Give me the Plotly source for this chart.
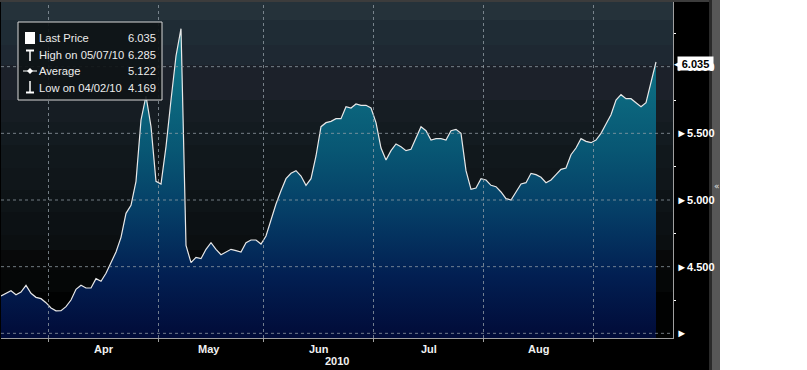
import pandas as pd
import plotly.graph_objects as go

# ---------------- data ----------------
start_date = "2010-03-18"
end_date = "2010-09-17"
prices = [
    4.28, 4.30, 4.32, 4.29, 4.31, 4.36, 4.30, 4.27, 4.26, 4.23,
    4.19, 4.169, 4.17, 4.20, 4.25, 4.33, 4.36, 4.34, 4.34, 4.41,
    4.39, 4.45, 4.53, 4.61, 4.72, 4.90, 4.96, 5.14, 5.60, 5.78,
    5.55, 5.14, 5.12, 5.40, 5.75, 6.08, 6.285, 4.66, 4.53, 4.57,
    4.56, 4.63, 4.68, 4.63, 4.59, 4.61, 4.63, 4.62, 4.61, 4.68,
    4.70, 4.70, 4.67, 4.73, 4.85, 4.97, 5.07, 5.16, 5.20, 5.22,
    5.18, 5.11, 5.16, 5.33, 5.55, 5.58, 5.59, 5.61, 5.61, 5.70,
    5.69, 5.72, 5.71, 5.71, 5.69, 5.58, 5.39, 5.30, 5.37, 5.42,
    5.40, 5.37, 5.38, 5.47, 5.55, 5.52, 5.45, 5.46, 5.46, 5.45,
    5.52, 5.53, 5.50, 5.22, 5.08, 5.09, 5.16, 5.15, 5.11, 5.10,
    5.06, 5.01, 5.00, 5.06, 5.12, 5.13, 5.20, 5.19, 5.17, 5.13,
    5.15, 5.19, 5.23, 5.24, 5.34, 5.39, 5.46, 5.44, 5.43, 5.45,
    5.50, 5.57, 5.64, 5.75, 5.79, 5.76, 5.76, 5.73, 5.70, 5.73,
    5.88, 6.035,
]
month_starts = ["2010-04-01", "2010-05-03", "2010-06-01", "2010-07-01", "2010-08-02", "2010-09-01"]
month_labels = ["Apr", "May", "Jun", "Jul", "Aug"]
month_label_dates = ["2010-04-16", "2010-05-17", "2010-06-16", "2010-07-16", "2010-08-17"]
year_label = "2010"
y_ticks = [4.0, 4.5, 5.0, 5.5, 6.0]
y_ticktext = ["\u25ba", "\u25ba4.500", "\u25ba5.000", "\u25ba5.500", "\u25ba6.000"]
y_minor = [4.25, 4.75, 5.25, 5.75, 6.25]
legend_names = ["Last Price", "High on 05/07/10", "Average", "Low on 04/02/10"]
legend_values = ["6.035", "6.285", "5.122", "4.169"]
last_price = 6.035

dates = pd.bdate_range(start_date, end_date) + pd.Timedelta(hours=12)
assert len(dates) == len(prices)

# ---------------- layout helpers ----------------
W, H = 807, 370
ML, MR, MT, MB = 1, 134, 2, 32
PW, PH = W - ML - MR, H - MT - MB
BOTTOM = MT + PH


def px2x(px):
    return (px - ML) / PW


def py2y(py):
    return (BOTTOM - py) / PH


FONT = "Liberation Sans, Arial, sans-serif"
GRID = "rgba(150,160,168,0.75)"

fig = go.Figure()
fig.add_trace(go.Scatter(
    x=dates, y=prices, mode="lines",
    line=dict(color="#e8e8e8", width=1.2),
    fill="tozeroy",
    fillgradient=dict(
        type="vertical", start=3.965, stop=6.3,
        colorscale=[[0.0, "#010b38"], [0.2, "#021f52"], [0.4, "#053d66"],
                    [0.6, "#085673"], [0.8, "#0c6a80"], [1.0, "#117a8c"]],
    ),
    hoverinfo="skip", showlegend=False,
))

shapes = []
# figure background (black panel + side strips)
shapes.append(dict(type="rect", xref="paper", yref="paper", x0=px2x(0), x1=px2x(711),
                   y0=py2y(H), y1=py2y(0), fillcolor="#000000", line_width=0, layer="below"))
shapes.append(dict(type="rect", xref="paper", yref="paper", x0=px2x(0), x1=px2x(711),
                   y0=py2y(2), y1=py2y(0), fillcolor="#3c3c3c", line_width=0, layer="below"))
shapes.append(dict(type="rect", xref="paper", yref="paper", x0=px2x(709), x1=px2x(712),
                   y0=py2y(H), y1=py2y(0), fillcolor="#2a2a2a", line_width=0, layer="below"))
shapes.append(dict(type="rect", xref="paper", yref="paper", x0=px2x(712), x1=px2x(720),
                   y0=py2y(H), y1=py2y(0), fillcolor="#575757", line_width=0, layer="below"))

# plot background bands
bands = [
    (2, 20, "#25323a"), (20, 45, "#1f2c35"), (45, 65, "#1e2832"), (65, 100, "#1c212a"),
    (100, 122, "#161d23"), (122, 145, "#131b20"), (145, 168, "#11181c"), (168, 190, "#10161a"),
    (190, 212, "#0e1417"), (212, 235, "#0c1114"), (235, 250, "#0b0f11"), (250, 270, "#08090a"),
    (270, 292, "#050707"), (292, 338, "#010202"),
]
for top, bot, col in bands:
    shapes.append(dict(type="rect", xref="paper", yref="paper", x0=0, x1=1,
                       y0=py2y(bot), y1=py2y(top), fillcolor=col, line_width=0, layer="below"))

# dotted grid drawn above the fill
for v in y_ticks:
    shapes.append(dict(type="line", xref="paper", yref="y", x0=0, x1=1, y0=v, y1=v,
                       line=dict(color=GRID, width=1, dash="dot"), layer="above"))
for d in month_starts:
    shapes.append(dict(type="line", xref="x", yref="paper", x0=d, x1=d, y0=0, y1=1,
                       line=dict(color=GRID, width=1, dash="dot"), layer="above"))

# legend box
shapes.append(dict(type="rect", xref="paper", yref="paper", x0=px2x(18), x1=px2x(162),
                   y0=py2y(100), y1=py2y(22), fillcolor="rgba(14,19,22,0.92)",
                   line=dict(color="#d8d8d8", width=1), layer="above"))
# icons
shapes.append(dict(type="rect", xref="paper", yref="paper", x0=px2x(25), x1=px2x(35),
                   y0=py2y(44), y1=py2y(32), fillcolor="#ffffff", line_width=0, layer="above"))
shapes.append(dict(type="line", xref="paper", yref="paper", x0=px2x(26), x1=px2x(34),
                   y0=py2y(50.5), y1=py2y(50.5), line=dict(color="white", width=2), layer="above"))
shapes.append(dict(type="line", xref="paper", yref="paper", x0=px2x(30), x1=px2x(30),
                   y0=py2y(50), y1=py2y(61), line=dict(color="white", width=1.5), layer="above"))
shapes.append(dict(type="line", xref="paper", yref="paper", x0=px2x(23), x1=px2x(37),
                   y0=py2y(71), y1=py2y(71), line=dict(color="white", width=1), layer="above"))
shapes.append(dict(type="path", xref="paper", yref="paper",
                   path=f"M {px2x(30)},{py2y(68)} L {px2x(33)},{py2y(71)} L {px2x(30)},{py2y(74)} "
                        f"L {px2x(27)},{py2y(71)} Z",
                   fillcolor="white", line_width=0, layer="above"))
shapes.append(dict(type="line", xref="paper", yref="paper", x0=px2x(30), x1=px2x(30),
                   y0=py2y(81), y1=py2y(92), line=dict(color="white", width=1.5), layer="above"))
shapes.append(dict(type="line", xref="paper", yref="paper", x0=px2x(26), x1=px2x(34),
                   y0=py2y(92.5), y1=py2y(92.5), line=dict(color="white", width=2), layer="above"))

annotations = []
row_y = [38.5, 55, 71, 87.5]
for name, val, ry in zip(legend_names, legend_values, row_y):
    annotations.append(dict(xref="paper", yref="paper", x=px2x(37), y=py2y(ry), text=name,
                            xanchor="left", yanchor="middle", showarrow=False,
                            font=dict(family=FONT, size=11.2, color="#ececec")))
    annotations.append(dict(xref="paper", yref="paper", x=px2x(158), y=py2y(ry), text=val,
                            xanchor="right", yanchor="middle", showarrow=False,
                            font=dict(family=FONT, size=11.2, color="#ececec")))

for lab, d in zip(month_labels, month_label_dates):
    annotations.append(dict(xref="x", yref="paper", x=d, y=py2y(349), text=f"<b>{lab}</b>",
                            xanchor="center", yanchor="middle", showarrow=False,
                            font=dict(family=FONT, size=11, color="#f0f0f0")))
annotations.append(dict(xref="paper", yref="paper", x=px2x(337), y=py2y(361),
                        text=f"<b>{year_label}</b>", xanchor="center", yanchor="middle",
                        showarrow=False, font=dict(family=FONT, size=11, color="#f0f0f0")))

# last price tag
annotations.append(dict(xref="paper", yref="y", x=px2x(672), y=last_price, yshift=-1.5,
                        text="\u25c0", xanchor="left", yanchor="middle", showarrow=False,
                        font=dict(family="DejaVu Sans", size=9, color="white")))
annotations.append(dict(xref="paper", yref="y", x=px2x(677), y=last_price, yshift=-1.5,
                        text=f"<b>{last_price:.3f}</b>", xanchor="left", yanchor="middle",
                        showarrow=False, bgcolor="white", borderpad=1, width=33, height=11,
                        font=dict(family=FONT, size=11, color="black")))
annotations.append(dict(xref="paper", yref="paper", x=px2x(716.5), y=py2y(186), text="\u00ab",
                        xanchor="center", yanchor="middle", showarrow=False,
                        font=dict(family="DejaVu Sans", size=9, color="#e0e0e0")))

fig.update_layout(
    width=W, height=H,
    margin=dict(l=ML, r=MR, t=MT, b=MB, pad=0),
    paper_bgcolor="white", plot_bgcolor="rgba(0,0,0,0)",
    shapes=shapes, annotations=annotations, showlegend=False,
    xaxis=dict(
        type="date", range=[dates[0], "2010-09-22 21:36"],
        rangebreaks=[dict(bounds=["sat", "mon"])],
        showgrid=False, zeroline=False,
        tickmode="array", tickvals=month_starts, ticktext=[""] * len(month_starts),
        ticks="outside", ticklen=3, tickcolor="#a0a0a0",
        showline=True, linecolor="#a0a0a0", linewidth=1,
    ),
    yaxis=dict(
        side="right", range=[3.965, 6.485],
        showgrid=False, zeroline=False,
        tickmode="array", tickvals=y_ticks, ticktext=y_ticktext, ticks="",
        ticklabelstandoff=0,
        tickfont=dict(family=FONT, size=11, color="white", weight="bold"),
        showline=True, linecolor="#a0a0a0", linewidth=1,
        minor=dict(tickmode="array", tickvals=y_minor, ticks="outside", ticklen=2,
                   tickcolor="white", showgrid=False),
    ),
)

fig.write_html("out.html", config={"displayModeBar": False, "staticPlot": True},
               post_script="document.body.style.margin='0px';")
